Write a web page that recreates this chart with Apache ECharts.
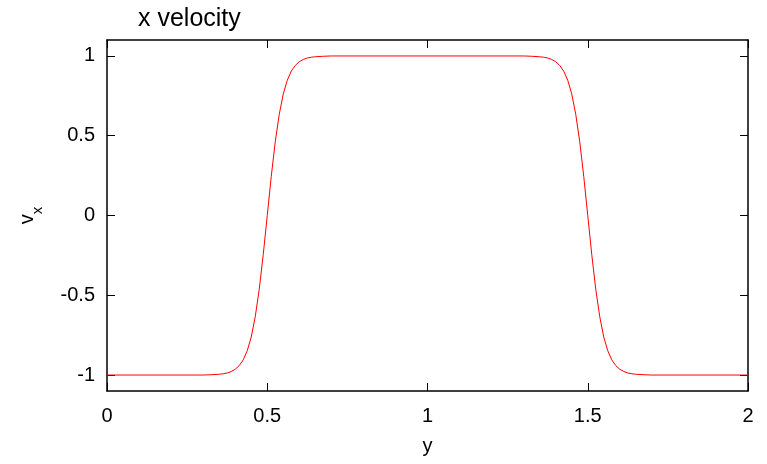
<!DOCTYPE html>
<html><head><meta charset="utf-8">
<script src="https://cdn.jsdelivr.net/npm/echarts@6/dist/echarts.min.js"></script>
<style>html,body{margin:0;padding:0;background:#fff}#c{width:767px;height:464px}</style>
</head><body><div id="c"></div>
<script>
const titleText = 'x velocity';
const yPos = [0,0.3,0.325,0.35,0.3625,0.375,0.3875,0.4,0.4125,0.425,0.4375,0.45,0.4625,0.475,0.4875,0.5,0.5125,0.525,0.5375,0.55,0.5625,0.575,0.5875,0.6,0.6125,0.625,0.6375,0.65,0.675,0.7,
  1.3,1.325,1.35,1.3625,1.375,1.3875,1.4,1.4125,1.425,1.4375,1.45,1.4625,1.475,1.4875,1.5,1.5125,1.525,1.5375,1.55,1.5625,1.575,1.5875,1.6,1.6125,1.625,1.6375,1.65,1.675,1.7,2];
const vx = [-1,-1,-0.998,-0.995,-0.992,-0.987,-0.978,-0.964,-0.941,-0.905,-0.848,-0.762,-0.635,-0.462,-0.245,0,0.245,0.462,0.635,0.762,0.848,0.905,0.941,0.964,0.978,0.987,0.992,0.995,0.998,1,
  1,0.998,0.995,0.992,0.987,0.978,0.964,0.941,0.905,0.848,0.762,0.635,0.462,0.245,0,-0.245,-0.462,-0.635,-0.762,-0.848,-0.905,-0.941,-0.964,-0.978,-0.987,-0.992,-0.995,-0.998,-1,-1];
const xTicks = [0,0.5,1,1.5,2];
const yTicks = [-1,-0.5,0,0.5,1];

const FONT = "'Liberation Sans', Arial, Helvetica, sans-serif";
const chart = echarts.init(document.getElementById('c'), null, {renderer:'canvas'});
const axisLine = {show:true, onZero:false, lineStyle:{color:'#000', width:1.5}};
const tick = {show:true, inside:true, length:8, lineStyle:{color:'#000', width:1}};
const data = yPos.map((x,i)=>[x, vx[i]]);
chart.setOption({
  animation:false,
  backgroundColor:'#fff',
  title:{text:titleText, left:133, top:2, textStyle:{fontFamily:FONT, fontSize:25, fontWeight:'normal', color:'#000'}},
  grid:{left:107, right:19, top:40, bottom:73},
  xAxis:[
    {type:'value', position:'bottom', min:0, max:2, interval:0.5,
     axisLine:axisLine, axisTick:tick, splitLine:{show:false},
     axisLabel:{fontFamily:FONT, fontSize:20, color:'#000', margin:15, customValues:xTicks},
     name:'y', nameLocation:'middle', nameGap:45, nameTextStyle:{fontFamily:FONT, fontSize:20, color:'#000'}},
    {type:'value', position:'top', min:0, max:2, interval:0.5,
     axisLine:axisLine, axisTick:tick, splitLine:{show:false}, axisLabel:{show:false}}
  ],
  yAxis:[
    {type:'value', position:'left', min:-1.1, max:1.1,
     axisLine:axisLine, axisTick:Object.assign({customValues:yTicks}, tick), splitLine:{show:false},
     axisLabel:{fontFamily:FONT, fontSize:20, color:'#000', margin:12, customValues:yTicks},
     name:'{v|v}{s|x}', nameLocation:'middle', nameGap:62, nameRotate:90,
     nameTextStyle:{fontFamily:FONT, fontSize:20, color:'#000',
       rich:{v:{fontFamily:FONT, fontSize:20, color:'#000', verticalAlign:'top', lineHeight:28},
             s:{fontFamily:FONT, fontSize:15, color:'#000', verticalAlign:'bottom', lineHeight:28}}}},
    {type:'value', position:'right', min:-1.1, max:1.1,
     axisLine:axisLine, axisTick:Object.assign({customValues:yTicks}, tick), splitLine:{show:false}, axisLabel:{show:false}}
  ],
  series:[{type:'line', xAxisIndex:0, yAxisIndex:0, data:data, showSymbol:false, smooth:false,
    lineStyle:{color:'#ff0000', width:1}, itemStyle:{color:'#ff0000'}}]
});
</script></body></html>
